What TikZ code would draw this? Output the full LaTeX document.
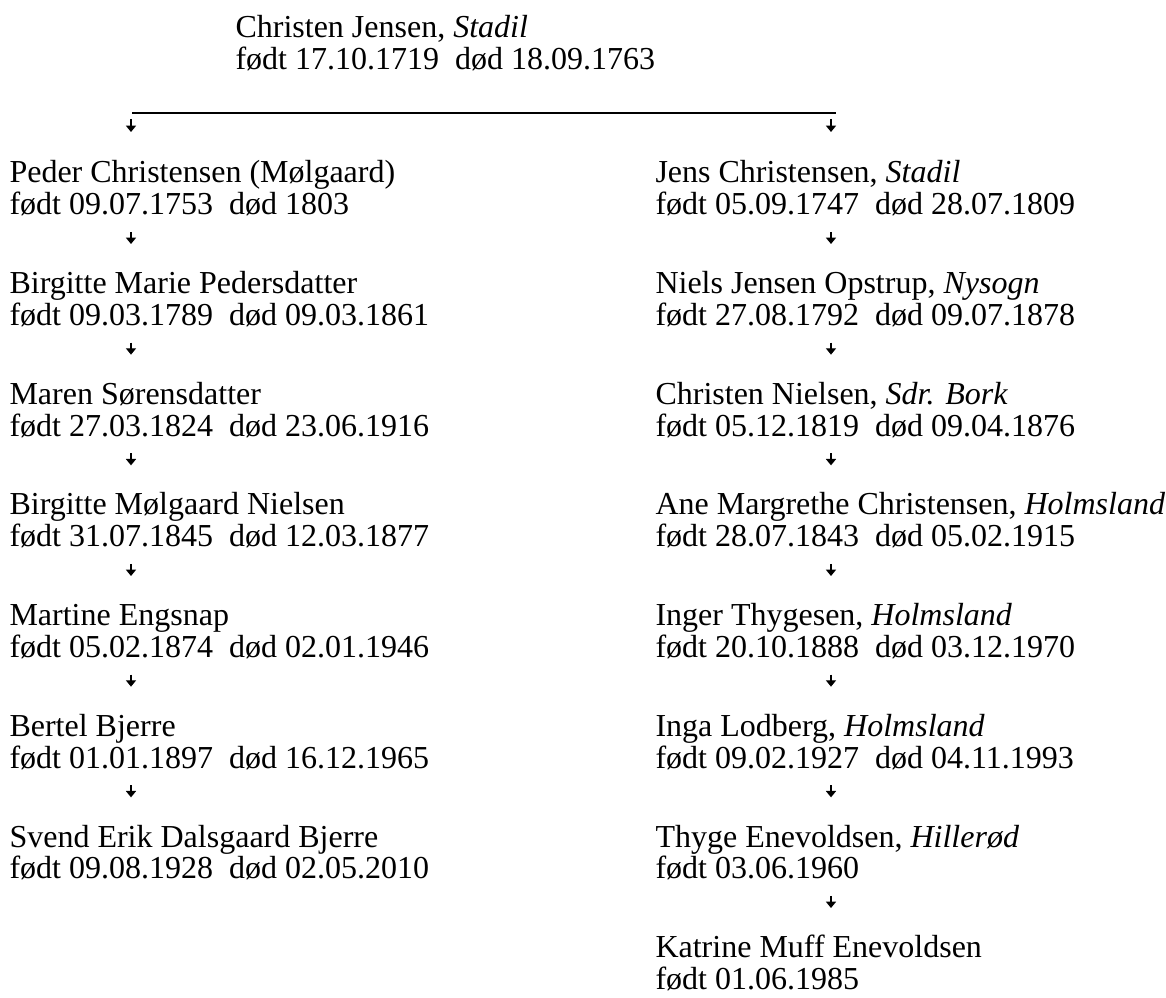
\documentclass[tikz,border=0pt]{standalone}
\usepackage{fontspec}
\setmainfont{Liberation Serif}
\usetikzlibrary{arrows.meta,positioning}

\begin{document}
\begin{tikzpicture}[x=0.375pt, y=-0.375pt,
        person/.style={anchor=base west, align=left, inner sep=0pt, font=\fontsize{12}{12}\selectfont},
        descent/.style={-{Triangle[length=2.4pt,width=3.8pt]}, line width=0.5pt}]
    \useasboundingbox (0,0) rectangle (1166,998);
    % stamfader
    \node (christen) [person] at (235,70) {Christen Jensen, \textit{Stadil}\\født 17.10.1719\ \ død 18.09.1763};
    \coordinate (forkl) at (132,113);
    \coordinate (forkr) at (836,113);
    \draw[line width=0.6pt] (forkl) -- (forkr);

    % venstre gren
    \node (peder) [person] at (9,215) {Peder Christensen (Mølgaard)\\født 09.07.1753\ \ død 1803};
    \node (birgittemarie) [below=41.5pt of peder.base west, person] {Birgitte Marie Pedersdatter\\født 09.03.1789\ \ død 09.03.1861};
    \node (maren) [below=41.5pt of birgittemarie.base west, person] {Maren Sørensdatter\\født 27.03.1824\ \ død 23.06.1916};
    \node (birgittem) [below=41.5pt of maren.base west, person] {Birgitte Mølgaard Nielsen\\født 31.07.1845\ \ død 12.03.1877};
    \node (martine) [below=41.5pt of birgittem.base west, person] {Martine Engsnap\\født 05.02.1874\ \ død 02.01.1946};
    \node (bertel) [below=41.5pt of martine.base west, person] {Bertel Bjerre\\født 01.01.1897\ \ død 16.12.1965};
    \node (svend) [below=41.5pt of bertel.base west, person] {Svend Erik Dalsgaard Bjerre\\født 09.08.1928\ \ død 02.05.2010};

    % hoejre gren
    \node (jens) [person] at (655,215) {Jens Christensen, \textit{Stadil}\\født 05.09.1747\ \ død 28.07.1809};
    \node (niels) [below=41.5pt of jens.base west, person] {Niels Jensen Opstrup, \textit{Nysogn}\\født 27.08.1792\ \ død 09.07.1878};
    \node (christenn) [below=41.5pt of niels.base west, person] {Christen Nielsen, \textit{Sdr. Bork}\\født 05.12.1819\ \ død 09.04.1876};
    \node (ane) [below=41.5pt of christenn.base west, person] {Ane Margrethe Christensen, \textit{Holmsland}\\født 28.07.1843\ \ død 05.02.1915};
    \node (inger) [below=41.5pt of ane.base west, person] {Inger Thygesen, \textit{Holmsland}\\født 20.10.1888\ \ død 03.12.1970};
    \node (inga) [below=41.5pt of inger.base west, person] {Inga Lodberg, \textit{Holmsland}\\født 09.02.1927\ \ død 04.11.1993};
    \node (thyge) [below=41.5pt of inga.base west, person] {Thyge Enevoldsen, \textit{Hillerød}\\født 03.06.1960};
    \node (katrine) [below=41.5pt of thyge.base west, person] {Katrine Muff Enevoldsen\\født 01.06.1985};

    \draw[descent] ([shift={(-1,6)}]forkl) -- ++(0,13);
    \draw[descent] ([shift={(-5,6)}]forkr) -- ++(0,13);
    \foreach \p in {peder,birgittemarie,maren,birgittem,martine,bertel}
        \draw[descent] ([shift={(122,17)}]\p.base west) -- ++(0,12);
    \foreach \p in {jens,niels,christenn,ane,inger,inga,thyge}
        \draw[descent] ([shift={(176,17)}]\p.base west) -- ++(0,12);
\end{tikzpicture}
\end{document}
